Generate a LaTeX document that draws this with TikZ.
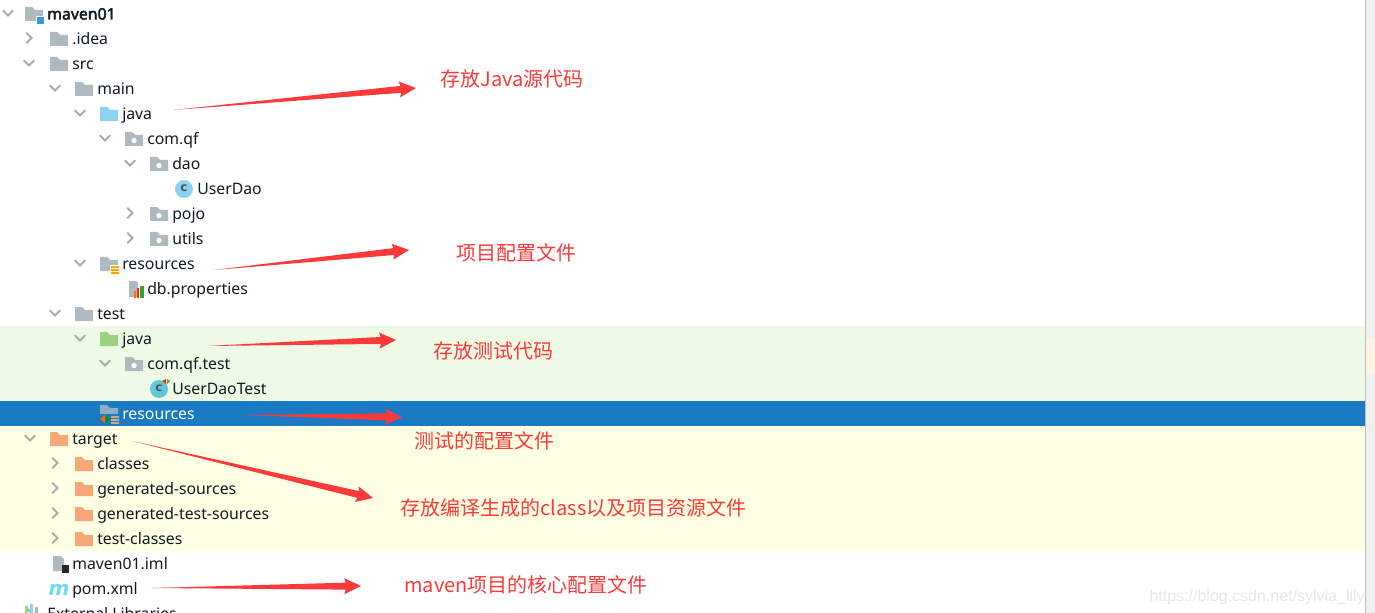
\documentclass[tikz,border=0pt]{standalone}
\usepackage{fontspec}
\setmainfont{Noto Sans}
\newfontfamily\cjk{Noto Sans CJK SC}
\newfontfamily\boldf[FakeBold=2.5]{Noto Sans}
\newfontfamily\wmf{Liberation Sans}
\newfontfamily\iconf{DejaVu Sans}
\usetikzlibrary{calc}
\definecolor{fgrey}{HTML}{AEB9C0}
\definecolor{fblue}{HTML}{8AD4EF}
\definecolor{fgreen}{HTML}{9BD383}
\definecolor{forange}{HTML}{F8A878}
\definecolor{chev}{HTML}{AAAAAA}
\definecolor{rd}{HTML}{FC3A3A}
\definecolor{tgreen}{HTML}{EEF9E6}
\definecolor{tyellow}{HTML}{FEFFE3}
\definecolor{tsel}{HTML}{1A7AC3}
\definecolor{txt}{HTML}{101A22}
\tikzset{x=0.75pt,y=-0.75pt,
 lbl/.style={anchor=base west,inner sep=0pt,text=txt,font=\fontsize{11.85}{14}\selectfont},
 note/.style={anchor=center,inner sep=0pt,text=rd,font=\cjk\fontsize{15}{17}\selectfont},
 cglyph/.style={inner sep=0pt,text=txt!75,font=\iconf\bfseries\fontsize{9}{9}\selectfont},
 chevline/.style={draw=chev,line width=1.45pt,line cap=round,line join=miter}}
% folder at (x,y) = icon centre
\newcommand{\fold}[3]{\fill[#3] (#1-9,#2-7) -- (#1-2,#2-7) -- (#1+1,#2-4) -- (#1+9,#2-4) -- (#1+9,#2+7) -- (#1-9,#2+7) -- cycle;}
\newcommand{\pfold}[2]{\fold{#1}{#2}{fgrey}\fill[white] (#1,#2+1.5) circle (2.7);}
\newcommand{\cdown}[2]{\draw[chevline] (#1-5,#2-2.5) -- (#1,#2+2.5) -- (#1+5,#2-2.5);}
\newcommand{\cright}[2]{\draw[chevline] (#1-2.5,#2-5) -- (#1+2.5,#2) -- (#1-2.5,#2+5);}
% wedge arrow between named coordinates
\newcommand{\redarrow}[2]{\fill[rd] (#1)
 -- ($(#2)!11.5pt!(#1)!2.6pt!90:(#2)$) -- ($(#2)!12.5pt!(#1)!6pt!90:(#2)$) -- (#2)
 -- ($(#2)!12.5pt!(#1)!6pt!-90:(#2)$) -- ($(#2)!11.5pt!(#1)!2.6pt!-90:(#2)$) -- cycle;}
\begin{document}
\begin{tikzpicture}
\path[use as bounding box] (0,0) rectangle (1375,613);
\fill[white] (0,0) rectangle (1375,613);
% rows
\fill[tgreen] (0,326) rectangle (1365,401);
\fill[tsel] (0,401) rectangle (1365,426);
\fill[tyellow] (0,426) rectangle (1365,551);
% scrollbar strip
\fill[black!6] (1365,0) rectangle (1375,613);
\fill[black!25] (1365,0) rectangle (1366,613);
\fill[orange!10] (1366,339) rectangle (1375,375);
% chevrons
\cdown{8}{13}
\cright{29}{38}
\cdown{29}{63}
\cdown{55}{88}
\cdown{80}{113}
\cdown{105}{138}
\cdown{130}{163}
\cright{130}{213}
\cright{130}{238}
\cdown{80}{263}
\cdown{55}{313}
\cdown{80}{338}
\cdown{105}{363}
\cdown{30}{438}
\cright{55}{463}
\cright{55}{488}
\cright{55}{513}
\cright{55}{538}
\cright{29}{613}
% icons
\fold{34}{14}{fgrey}\fill[white] (36,16) rectangle (45,24);\fill[cyan!70!blue!80] (37,17) rectangle (44,24);
\fold{59}{39}{fgrey}
\fold{59}{64}{fgrey}
\fold{84}{89}{fgrey}
\fold{109}{114}{fblue}
\pfold{134}{139}
\pfold{159}{164}
\fill[fblue] (184,189) circle (9);\node[cglyph] (cu) at (184,188.5) {c};
\pfold{159}{214}
\pfold{159}{239}
\fold{109}{264}{fgrey}\fill[white] (110,265) rectangle (120,274);\fill[orange!70!yellow] (111,266) rectangle (119,268)(111,269) rectangle (119,271)(111,272) rectangle (119,274);
\fill[fgrey] (129,281) -- (136,281) -- (138,283) -- (138,297) -- (129,297) -- cycle;
\fill[orange!90!red] (134,291) rectangle (136,298);\fill[red!70!orange] (137,288) rectangle (139,298);\fill[green!55!black!80] (140,286) rectangle (144,298);
\fold{84}{314}{fgrey}
\fold{109}{339}{fgreen}
\pfold{134}{364}
\fill[fblue!80!cyan!90!black] (159,389) circle (9);\node[cglyph] (ct) at (159,388.5) {c};
\fill[red!70!orange] (162,381) -- (166,379) -- (166,384) -- cycle;\fill[green!50!black!70] (167,379) -- (170,381) -- (167,384) -- cycle;
\fold{109}{412}{fgrey!80!tsel}\fill[tsel] (100,414) rectangle (120,426);
\fill[orange!80!red] (100,419) -- (105,415) -- (105,423) -- cycle;\fill[green!60!black] (106,415) -- (110,419) -- (106,423) -- cycle;
\fill[orange!30!fgrey] (111,416) rectangle (119,418)(111,419) rectangle (119,421)(111,422) rectangle (119,424);
\fold{59}{439}{forange}
\fold{84}{464}{forange}
\fold{84}{489}{forange}
\fold{84}{514}{forange}
\fold{84}{539}{forange}
\fill[fgrey] (53,556) -- (61,556) -- (64,559) -- (64,571) -- (53,571) -- cycle;\fill[black!85] (62,565) rectangle (69,573);
\node[anchor=base,inner sep=0pt,text=fblue!80!cyan,font=\iconf\bfseries\itshape\fontsize{15}{15}\selectfont] (mm) at (59,595) {m};
\fill[fgreen] (25,606) rectangle (28,613);\fill[fblue] (30,604) rectangle (33,613);\fill[fgrey] (35,607) rectangle (38,613);
% tree labels
\node[lbl,font=\boldf\fontsize{11.85}{14}\selectfont] (t0) at (47,19.5) {maven01};
\node[lbl] (t1) at (72,44.5) {.idea};
\node[lbl] (t2) at (72,69.5) {src};
\node[lbl] (t3) at (97,94.5) {main};
\node[lbl] (t4) at (122,119.5) {java};
\node[lbl] (t5) at (147,144.5) {com.qf};
\node[lbl] (t6) at (172,169.5) {dao};
\node[lbl] (t7) at (197,194.5) {UserDao};
\node[lbl] (t8) at (172,219.5) {pojo};
\node[lbl] (t9) at (172,244) {utils};
\node[lbl] (t10) at (122,269) {resources};
\node[lbl] (t11) at (147,294) {db.properties};
\node[lbl] (t12) at (97,319) {test};
\node[lbl] (t13) at (122,344) {java};
\node[lbl] (t14) at (147,369) {com.qf.test};
\node[lbl] (t15) at (172,394) {UserDaoTest};
\node[lbl,text=white] (t16) at (122,419) {resources};
\node[lbl] (t17) at (72,444) {target};
\node[lbl] (t18) at (97,469) {classes};
\node[lbl] (t19) at (97,494) {generated-sources};
\node[lbl] (t20) at (97,519) {generated-test-sources};
\node[lbl] (t21) at (97,544) {test-classes};
\node[lbl] (t22) at (72,569) {maven01.iml};
\node[lbl] (t23) at (72,594) {pom.xml};
\node[lbl] (t24) at (47,619) {External Libraries};
% notes
\node[note] (n1) at (512,79) {存放Java源代码};
\node[note] (n2) at (516,253) {项目配置文件};
\node[note] (n3) at (493,351) {存放测试代码};
\node[note] (n4) at (484,441) {测试的配置文件};
\node[note] (n5) at (573.5,508) {存放编译生成的class以及项目资源文件};
\node[note] (n6) at (526,585) {maven项目的核心配置文件};
% arrows
\coordinate (a1) at (173,110); \coordinate (b1) at (416,88);
\coordinate (a2) at (214,270); \coordinate (b2) at (409,250);
\coordinate (a3) at (207,346); \coordinate (b3) at (396,340);
\coordinate (a4) at (242,415); \coordinate (b4) at (402,417);
\coordinate (a5) at (132,441); \coordinate (b5) at (373,498);
\coordinate (a6) at (152,588); \coordinate (b6) at (361,586);
\redarrow{a1}{b1}
\redarrow{a2}{b2}
\redarrow{a3}{b3}
\redarrow{a4}{b4}
\redarrow{a5}{b5}
\redarrow{a6}{b6}
% watermark
\node[anchor=base east,inner sep=0pt,text=black!9,font=\wmf\fontsize{12}{14}\selectfont] (wm) at (1365,601) {https://blog.csdn.net/sylvia\_lily};
\end{tikzpicture}
\end{document}
